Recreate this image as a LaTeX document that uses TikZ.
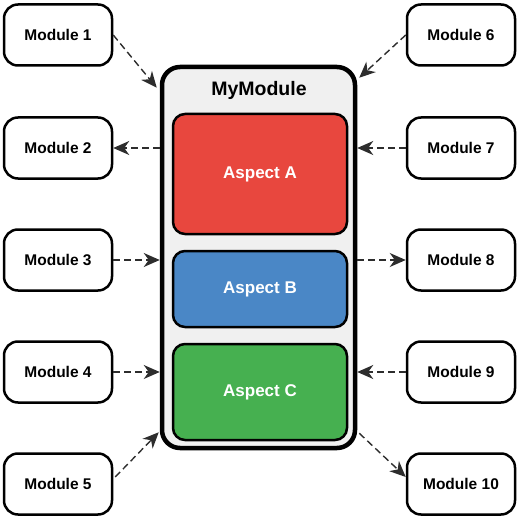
\documentclass[tikz,border=0pt]{standalone}
\usepackage{fontspec}
\setmainfont{Liberation Sans}
\usepackage{xcolor}
\usetikzlibrary{arrows.meta}
\definecolor{aspred}{RGB}{232,71,62}
\definecolor{aspblue}{RGB}{74,135,198}
\definecolor{aspgreen}{RGB}{70,176,80}
\definecolor{arrgray}{RGB}{45,45,45}
\tikzset{
  modbox/.style={draw=black, line width=2.5pt, rounded corners=14pt, fill=white,
    minimum width=108pt, minimum height=61pt, font=\fontsize{15.5}{18}\selectfont\bfseries},
  aspbox/.style={draw=black, line width=2.5pt, rounded corners=12pt, text=white,
    minimum width=174pt, font=\fontsize{17}{20}\selectfont\bfseries},
  dep/.style={draw=arrgray, line width=1.4pt, dash pattern=on 7pt off 4pt,
    -{Stealth[length=16pt,width=14pt,inset=5pt]}}
}

\begin{document}
\begin{tikzpicture}[x=1pt,y=-1pt]
  \useasboundingbox (0,0) rectangle (520,519);
  \node[draw=black, line width=4.5pt, rounded corners=18pt, fill=black!6,
    minimum width=193pt, minimum height=381pt] (my) at (258.5,257.5) {};
  \node[font=\fontsize{19.5}{22}\selectfont\bfseries] (title) at (259,90) {MyModule};
  \node[aspbox, fill=aspred, minimum height=120pt] (aa) at (260,174) {Aspect A};
  \node[aspbox, fill=aspblue, minimum height=76pt] (ab) at (260,289) {Aspect B};
  \node[aspbox, fill=aspgreen, minimum height=96pt] (ac) at (260,392) {Aspect C};

  \node[modbox] (m1) at (58,35) {Module 1};
  \node[modbox] (m2) at (58,148) {Module 2};
  \node[modbox] (m3) at (58,260) {Module 3};
  \node[modbox] (m4) at (58,372) {Module 4};
  \node[modbox] (m5) at (58,484) {Module 5};
  \node[modbox] (m6) at (461,35) {Module 6};
  \node[modbox] (m7) at (461,148) {Module 7};
  \node[modbox] (m8) at (461,260) {Module 8};
  \node[modbox] (m9) at (461,372) {Module 9};
  \node[modbox] (m10) at (461,484) {Module 10};

  \draw[dep] (m1.east) -- ([shift={(-3,23)}]my.north west);
  \draw[dep] (m2.east -| my.west) -- (m2.east);
  \draw[dep] (m3.east) -- (m3.east -| my.west);
  \draw[dep] (m4.east) -- (m4.east -| my.west);
  \draw[dep] ([shift={(2,-7)}]m5.east) -- ([shift={(-1,-18)}]my.south west);
  \draw[dep] (m6.west) -- ([shift={(2,13)}]my.north east);
  \draw[dep] (m7.west) -- (m7.west -| my.east);
  \draw[dep] (m8.west -| my.east) -- (m8.west);
  \draw[dep] (m9.west) -- (m9.west -| my.east);
  \draw[dep] ([shift={(2,-17)}]my.south east) -- ([shift={(0,-7)}]m10.west);
\end{tikzpicture}
\end{document}
